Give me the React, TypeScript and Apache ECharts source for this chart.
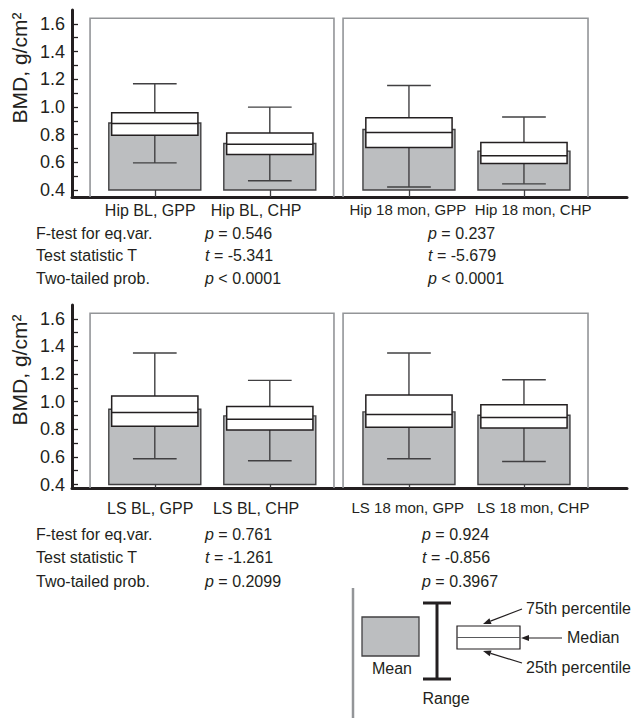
import React, { useEffect, useRef } from "react";
import * as echarts from "echarts";

// ---------- data ----------
const hipCategories = ["Hip BL, GPP", "Hip BL, CHP", "Hip 18 mon, GPP", "Hip 18 mon, CHP"];
const lsCategories = ["LS BL, GPP", "LS BL, CHP", "LS 18 mon, GPP", "LS 18 mon, CHP"];

const hipMean = [0.884, 0.736, 0.837, 0.681];
const hipQ1 = [0.796, 0.657, 0.707, 0.592];
const hipMedian = [0.88, 0.731, 0.815, 0.647];
const hipQ3 = [0.959, 0.812, 0.923, 0.743];
const hipMin = [0.596, 0.467, 0.422, 0.445];
const hipMax = [1.168, 0.999, 1.155, 0.927];

const lsMean = [0.945, 0.897, 0.926, 0.902];
const lsQ1 = [0.822, 0.795, 0.815, 0.809];
const lsMedian = [0.921, 0.873, 0.907, 0.885];
const lsQ3 = [1.042, 0.965, 1.049, 0.977];
const lsMin = [0.587, 0.572, 0.587, 0.567];
const lsMax = [1.353, 1.154, 1.353, 1.159];

const yTickValues = [0.4, 0.5, 0.6, 0.7, 0.8, 0.9, 1.0, 1.1, 1.2, 1.3, 1.4, 1.5, 1.6];
const yLabelValues = [0.4, 0.6, 0.8, 1.0, 1.2, 1.4, 1.6];

const statNames = ["F-test for eq.var.", "Test statistic T", "Two-tailed prob."];
const hipStatsBL = [["p", " = 0.546"], ["t", " = -5.341"], ["p", " < 0.0001"]];
const hipStats18 = [["p", " = 0.237"], ["t", " = -5.679"], ["p", " < 0.0001"]];
const lsStatsBL = [["p", " = 0.761"], ["t", " = -1.261"], ["p", " = 0.2099"]];
const lsStats18 = [["p", " = 0.924"], ["t", " = -0.856"], ["p", " = 0.3967"]];

// ---------- layout ----------
const boxPos = [0.72, 1.72, 2.93, 3.93];
const labelPos = [0.68, 1.6, 2.92, 4.01];
const framePos = [[0.157, 2.278], [2.357, 4.487]];
const xMax = 4.826;
const barBase = 0.4;
const frameTop = 1.64;
const FF = "'Liberation Sans', Arial, Helvetica, sans-serif";
const INK = "#231f20";
const GRAYFILL = "#bcbec0";
const FRAME = "#939598";

function boxData(mean, q1, med, q3, mn, mx) {
  return boxPos.map((x, i) => [x, mean[i], q1[i], med[i], q3[i], mn[i], mx[i]]);
}

function renderBox(params, api) {
  const x = api.value(0);
  const unit = api.size([1, 0])[0];
  const gw = unit * 0.8;
  const ww = unit * 0.75;
  const cw = unit * 0.38;
  const cx = api.coord([x, 0])[0];
  const y = (v) => api.coord([x, v])[1];
  const meanY = y(api.value(1));
  const q1Y = y(api.value(2));
  const medY = y(api.value(3));
  const q3Y = y(api.value(4));
  const minY = y(api.value(5));
  const maxY = y(api.value(6));
  const baseY = y(barBase);
  const wStyle = { stroke: "#414042", lineWidth: 1.4 };
  return {
    type: "group",
    children: [
      { type: "rect", shape: { x: cx - gw / 2, y: meanY, width: gw, height: baseY - meanY }, style: { fill: GRAYFILL, stroke: "#414042", lineWidth: 1.4 } },
      { type: "line", shape: { x1: cx, y1: maxY, x2: cx, y2: minY }, style: wStyle },
      { type: "line", shape: { x1: cx - cw / 2, y1: maxY, x2: cx + cw / 2, y2: maxY }, style: wStyle },
      { type: "line", shape: { x1: cx - cw / 2, y1: minY, x2: cx + cw / 2, y2: minY }, style: wStyle },
      { type: "rect", shape: { x: cx - ww / 2, y: q3Y, width: ww, height: q1Y - q3Y }, style: { fill: "#ffffff", stroke: INK, lineWidth: 1.5 } },
      { type: "line", shape: { x1: cx - ww / 2, y1: medY, x2: cx + ww / 2, y2: medY }, style: { stroke: INK, lineWidth: 1.5 } },
    ],
  };
}

function makeFrameRender(yMin) {
  return (params, api) => {
    const p0 = api.coord([api.value(0), frameTop]);
    const p1 = api.coord([api.value(1), yMin]);
    return {
      type: "polyline",
      shape: { points: [[p0[0], p1[1]], [p0[0], p0[1]], [p1[0], p0[1]], [p1[0], p1[1]]] },
      style: { stroke: FRAME, lineWidth: 1.6, fill: null },
    };
  };
}

function xAxisFor(gi, cats, margin) {
  return {
    type: "value",
    gridIndex: gi,
    min: 0,
    max: xMax,
    axisLine: { show: true, onZero: false, lineStyle: { color: INK, width: 3 } },
    axisTick: { show: true, inside: true, length: 7, customValues: boxPos, lineStyle: { color: "#414042", width: 1.3 } },
    axisLabel: {
      show: true,
      customValues: labelPos,
      margin,
      fontSize: 16,
      fontFamily: FF,
      color: INK,
      formatter: (v) => {
        const i = labelPos.indexOf(v);
        if (i < 0) return "";
        return i >= 2 ? "{c|" + cats[i] + "}" : cats[i];
      },
      rich: { c: { fontSize: 15, fontFamily: FF, color: INK } },
    },
    splitLine: { show: false },
  };
}

function yAxisFor(gi, min) {
  return {
    type: "value",
    gridIndex: gi,
    min,
    max: 1.7,
    axisLine: { show: true, lineStyle: { color: INK, width: 3 } },
    axisTick: { show: true, inside: true, length: 6, customValues: yTickValues, lineStyle: { color: INK, width: 1.3 } },
    axisLabel: {
      show: true,
      customValues: yLabelValues,
      margin: 7,
      fontSize: 18,
      fontFamily: FF,
      color: INK,
      formatter: (v) => Number(v).toFixed(1),
    },
    splitLine: { show: false },
  };
}

function statTexts(stats, x, ys) {
  return stats.map((s, i) => ({
    type: "text",
    x,
    y: ys[i],
    style: {
      text: "{i|" + s[0] + "}" + s[1],
      font: "16px " + FF,
      fill: INK,
      verticalAlign: "middle",
      rich: { i: { fontStyle: "italic", fontSize: 16, fontFamily: FF, fill: INK } },
    },
  }));
}

function plainText(text, x, y, align, size) {
  return {
    type: "text",
    x,
    y,
    style: { text, font: (size || 16) + "px " + FF, fill: INK, align: align || "left", verticalAlign: "middle" },
  };
}

function arrow(x1, y1, x2, y2) {
  const dx = x2 - x1;
  const dy = y2 - y1;
  const len = Math.sqrt(dx * dx + dy * dy);
  const ux = dx / len;
  const uy = dy / len;
  const hl = 8;
  const hw = 3;
  const bx = x2 - ux * hl;
  const by = y2 - uy * hl;
  return [
    { type: "line", shape: { x1, y1, x2: bx, y2: by }, style: { stroke: INK, lineWidth: 1.2 } },
    {
      type: "polygon",
      shape: { points: [[x2, y2], [bx - uy * hw, by + ux * hw], [bx + uy * hw, by - ux * hw]] },
      style: { fill: INK },
    },
  ];
}

export default function App() {
  const ref = useRef(null);
  useEffect(() => {
    const chart = echarts.init(ref.current, null, { renderer: "svg" });
    const statNameYsTop = [233, 255.5, 278];
    const statNameYsBot = [534, 557.5, 581];
    const graphics = [
      { type: "text", x: 19, y: 68, rotation: Math.PI / 2, style: { text: "BMD, g/cm²", font: "21px " + FF, fill: INK, align: "center", verticalAlign: "middle" } },
      { type: "text", x: 19, y: 370, rotation: Math.PI / 2, style: { text: "BMD, g/cm²", font: "21px " + FF, fill: INK, align: "center", verticalAlign: "middle" } },
      ...statNames.map((n, i) => plainText(n, 36, statNameYsTop[i])),
      ...statTexts(hipStatsBL, 205, statNameYsTop),
      ...statTexts(hipStats18, 428, statNameYsTop),
      ...statNames.map((n, i) => plainText(n, 36, statNameYsBot[i])),
      ...statTexts(lsStatsBL, 205, statNameYsBot),
      ...statTexts(lsStats18, 422, statNameYsBot),
      // legend
      { type: "line", shape: { x1: 353, y1: 588, x2: 353, y2: 718 }, style: { stroke: FRAME, lineWidth: 2.5 } },
      { type: "rect", shape: { x: 362, y: 617, width: 57, height: 39 }, style: { fill: GRAYFILL, stroke: "#414042", lineWidth: 1.3 } },
      plainText("Mean", 392, 668, "center"),
      { type: "line", shape: { x1: 437, y1: 603, x2: 437, y2: 679 }, style: { stroke: INK, lineWidth: 3 } },
      { type: "line", shape: { x1: 423, y1: 603, x2: 451, y2: 603 }, style: { stroke: INK, lineWidth: 3 } },
      { type: "line", shape: { x1: 423, y1: 679, x2: 451, y2: 679 }, style: { stroke: INK, lineWidth: 3 } },
      plainText("Range", 446, 698, "center"),
      { type: "rect", shape: { x: 457, y: 626, width: 63, height: 23 }, style: { fill: "#ffffff", stroke: INK, lineWidth: 1.2 } },
      { type: "line", shape: { x1: 457, y1: 637.5, x2: 520, y2: 637.5 }, style: { stroke: "#58595b", lineWidth: 1.2 } },
      ...arrow(522, 609, 483, 624),
      ...arrow(562, 638, 521, 638),
      ...arrow(522, 663, 483, 651),
      plainText("75th percentile", 526, 608),
      plainText("Median", 567, 637),
      plainText("25th percentile", 526, 667),
    ];
    chart.setOption({
      animation: false,
      textStyle: { fontFamily: FF },
      grid: [
        { left: 72, right: 6, top: 10, height: 187 },
        { left: 72, right: 6, top: 305, height: 183 },
      ],
      xAxis: [xAxisFor(0, hipCategories, 5), xAxisFor(1, lsCategories, 12)],
      yAxis: [yAxisFor(0, 0.35), yAxisFor(1, 0.375)],
      series: [
        { type: "custom", xAxisIndex: 0, yAxisIndex: 0, renderItem: makeFrameRender(0.35), data: framePos, z: 1, silent: true },
        { type: "custom", xAxisIndex: 0, yAxisIndex: 0, renderItem: renderBox, data: boxData(hipMean, hipQ1, hipMedian, hipQ3, hipMin, hipMax), z: 3, encode: { x: 0, y: [1, 2, 3, 4, 5, 6] } },
        { type: "custom", xAxisIndex: 1, yAxisIndex: 1, renderItem: makeFrameRender(0.375), data: framePos, z: 1, silent: true },
        { type: "custom", xAxisIndex: 1, yAxisIndex: 1, renderItem: renderBox, data: boxData(lsMean, lsQ1, lsMedian, lsQ3, lsMin, lsMax), z: 3, encode: { x: 0, y: [1, 2, 3, 4, 5, 6] } },
      ],
      graphic: graphics,
    });
    return () => chart.dispose();
  }, []);
  return (
    <div
      ref={ref}
      style={{ position: "fixed", left: 0, top: 0, width: 633, height: 718, background: "#ffffff" }}
    />
  );
}
